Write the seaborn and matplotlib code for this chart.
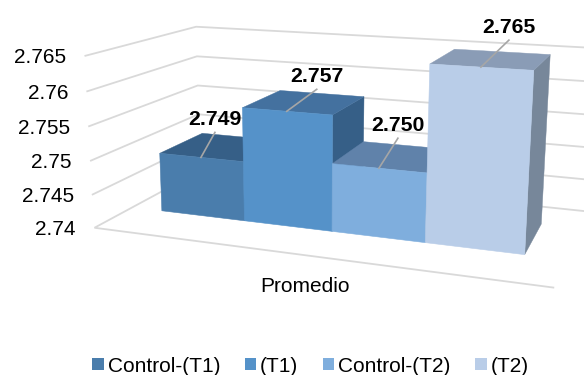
import numpy as np, pandas as pd
import matplotlib
matplotlib.use("Agg")
import matplotlib.pyplot as plt
import seaborn as sns
from matplotlib.patches import Polygon, Patch
from matplotlib.transforms import Transform

categories = ["Control-(T1)", "(T1)", "Control-(T2)", "(T2)"]
values = [2.749, 2.757, 2.750, 2.765]
labels = ["2.749", "2.757", "2.750", "2.765"]
tick_values = [2.74, 2.745, 2.75, 2.755, 2.76, 2.765]
tick_labels = ["2.74", "2.745", "2.75", "2.755", "2.76", "2.765"]
front = ["#4A7DAC", "#5592C9", "#7FAEDD", "#B9CDE8"]
top = ["#365F87", "#44719F", "#6082AA", "#8A9CB6"]
side = ["#365F87", "#365F87", "#6082AA", "#77879A"]
leader = [(14, -25), (30, -22), (19, -30), (28, -27)]
BASE = 2.74

# camera calibration: (category pos, value, depth) -> pixel
cal = [(0,2.74,0,162,211),(4,2.74,0,525,254),(4,2.765,0,534,70),(0,2.749,0,160,153),
       (1,2.757,0,242,108),(2,2.757,0,332,115),(2,2.75,0,332,164),(3,2.75,0,428,173),
       (3,2.765,0,430,65),(3,2.74,0,425,242),(1,2.74,0,244,221),(2,2.74,0,332,231),
       (0,2.749,1,202,133),(1,2.757,1,281,90),(2,2.757,1,364,97),(2,2.75,1,364,142),
       (3,2.765,1,454,49),(4,2.765,1,550,54),(4,2.74,1,541,225)]
A, b = [], []
for u, v, d, x, y in cal:
    w = (v - BASE) * 100
    A.append([u, w, d, 1, 0, 0, 0, 0, -x*u, -x*w, -x*d]); b.append(x)
    A.append([0, 0, 0, 0, u, w, d, 1, -y*u, -y*w, -y*d]); b.append(y)
P = np.append(np.linalg.lstsq(np.array(A, float), np.array(b, float), rcond=None)[0], 1).reshape(3, 4)

def project(u, v, d=0.0):
    h = P @ np.array([u, (v - BASE) * 100, d, 1.0])
    return h[0] / h[2], h[1] / h[2]

class Front(Transform):
    input_dims = output_dims = 2
    def transform_non_affine(self, values):
        out = [project(a + 0.5, b, 0.0) for a, b in np.asarray(values)]
        return np.array(out)

plt.rcParams["font.family"] = ["Liberation Sans", "DejaVu Sans"]
fig = plt.figure(figsize=(5.84, 3.75), dpi=100)
ax = fig.add_axes([0, 0, 1, 1])
df = pd.DataFrame({"group": categories, "value": values})
sns.barplot(data=df, x="group", y="value", hue="group", palette=front, hue_order=categories,
            order=categories, width=1, dodge=False, legend=False, saturation=1, ax=ax)
bars = sorted(ax.patches, key=lambda p: p.get_x())
ax.set_xlim(0, 584); ax.set_ylim(375, 0); ax.axis("off")
proj = Front() + ax.transData
for i, (p, val) in enumerate(zip(bars, values)):
    p.set_y(BASE); p.set_height(val - BASE)
    p.set_transform(proj); p.set_zorder(10 * i + 13)
    p.set_edgecolor(front[i]); p.set_linewidth(0.4)
    u0, u1 = i, i + 1
    ax.add_patch(Polygon([project(u1, val, 0), project(u1, val, 1), project(u1, BASE, 1), project(u1, BASE, 0)],
                         fc=side[i], ec=side[i], lw=0.3, zorder=10 * i + 11))
    ax.add_patch(Polygon([project(u0, val, 0), project(u0, val, 1), project(u1, val, 1), project(u1, val, 0)],
                         fc=top[i], ec=top[i], lw=0.3, zorder=10 * i + 12))
    sx, sy = project(i + 0.5, val, 0)
    dx, dy = leader[i]
    ax.plot([sx, sx + dx], [sy, sy + dy], color="#A6A6A6", lw=1.2, zorder=100)
    ax.text(sx + dx, sy + dy - 3, labels[i], ha="center", va="bottom", fontsize=15.3, fontweight="bold",
            color="black", zorder=101)

U0, U1, D0, D1 = -0.37, 4.39, -0.76, 1.62
for v, t in zip(tick_values, tick_labels):
    pts = [project(U0, v, D0), project(U0, v, D1), project(U1 + 0.5, v, D1)]
    if v == BASE:
        pts = [project(U1 + 0.5, v, D1), project(U0, v, D1), project(U0, v, D0), project(U1, v, D0)]
    ax.plot(*zip(*pts), color="#D9D9D9", lw=1.3, zorder=1, solid_joinstyle="miter")
    x, y = project(U0, v, D0)
    ax.text(x - 19, y + 2, t, ha="right", va="center", fontsize=15, color="#000000")
ax.text(305, 286, "Promedio", ha="center", va="center", fontsize=15, color="#000000")

handles = [Patch(fc=c, ec="none", label=l) for c, l in zip(front, categories)]
ax.legend(handles=handles, ncol=4, loc="center", bbox_to_anchor=(310.5 / 584, 1 - 366 / 375), frameon=False,
          fontsize=15, handlelength=0.55, handleheight=0.55, handletextpad=0.2, columnspacing=1.17,
          borderpad=0, borderaxespad=0)
fig.savefig("out.png", dpi=100)
